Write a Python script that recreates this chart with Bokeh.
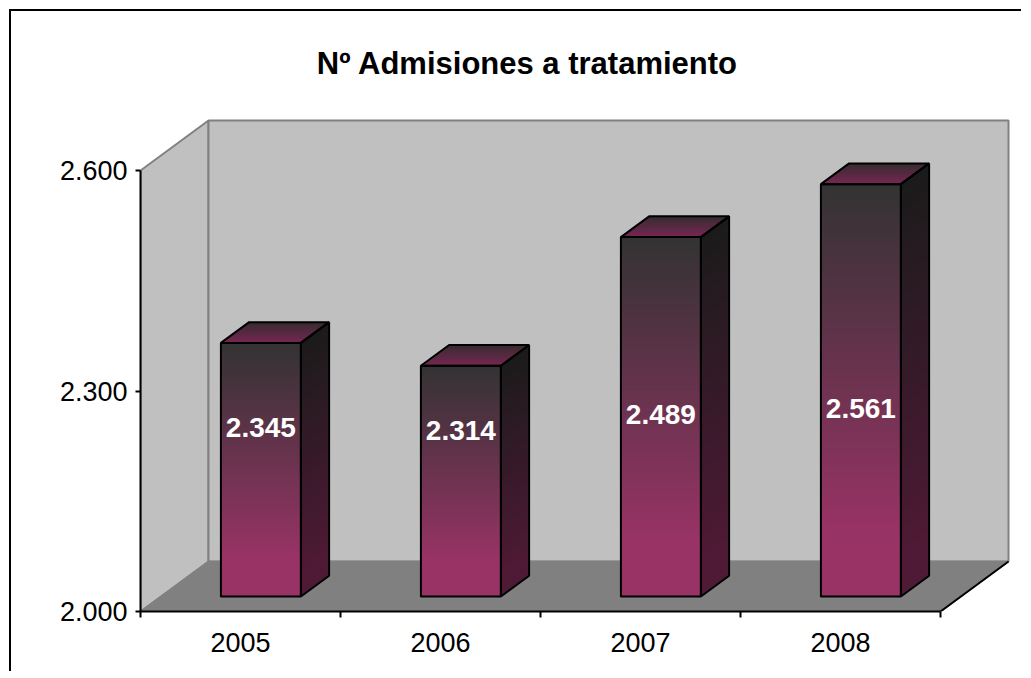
from bokeh.plotting import figure
from bokeh.models import Range1d, FixedTicker
from bokeh.core.properties import value
from bokeh.embed import file_html
from bokeh.resources import INLINE

# ---------------- data ----------------
years = ["2005", "2006", "2007", "2008"]
admissions = [2345, 2314, 2489, 2561]
y_ticks = [2000, 2300, 2600]
y_tick_labels = ["2.000", "2.300", "2.600"]
title_text = "Nº Admisiones a tratamiento"

# ---------------- layout constants ----------------
W, H = 1012, 662
MARGIN = 9                     # outer margin before the chart-area border
BORDER = 2
PAGE_X0 = PAGE_Y0 = MARGIN + BORDER
AX_X, AX_Y = 140, 611          # page position of the axes corner
PX_CAT = 200.0                 # px per category
PX_VAL = 441.0 / 600.0         # px per value unit
Y0 = 2000
DEPTH_PX = (68.0, 50.0)        # 3D depth offset in px
DX = DEPTH_PX[0] / PX_CAT
DY = DEPTH_PX[1] / PX_VAL
F0, F1 = 0.30, 0.715           # bar front/back depth fractions
BAR_W = 0.4
NSTRIP = 80
FONT = "Liberation Sans"

mbl = AX_X - PAGE_X0
mbb = H - (AX_Y - PAGE_Y0)
x_end = (W - mbl) / PX_CAT
y_end = Y0 + (AX_Y - PAGE_Y0) / PX_VAL

p = figure(width=W, height=H, output_backend="svg", toolbar_location=None,
           x_range=Range1d(0, x_end), y_range=Range1d(Y0, y_end),
           min_border_left=mbl, min_border_bottom=mbb, min_border_top=0, min_border_right=0)
p.margin = (MARGIN, 0, 0, MARGIN)
p.styles = {"border-left": f"{BORDER}px solid black", "border-top": f"{BORDER}px solid black"}
p.outline_line_color = None
p.grid.visible = False
p.background_fill_color = "white"
p.border_fill_color = "white"

n = len(years)
top_val = y_ticks[-1]

def hexc(c):
    return "#%02x%02x%02x" % tuple(int(round(v)) for v in c)

def lerp(a, b, t):
    t = max(0.0, min(1.0, t))
    return tuple(a[i] + (b[i] - a[i]) * t for i in range(3))

# ---------------- walls & floor ----------------
wall_fill = "#c0c0c0"
edge_gray = "#808080"
p.patch([0, DX, DX, 0], [Y0, Y0 + DY, top_val + DY, top_val],
        fill_color=wall_fill, line_color=edge_gray, line_width=2)
p.patch([DX, n + DX, n + DX, DX], [Y0 + DY, Y0 + DY, top_val + DY, top_val + DY],
        fill_color=wall_fill, line_color=edge_gray, line_width=2)
p.patch([0, n, n + DX, DX], [Y0, Y0, Y0 + DY, Y0 + DY],
        fill_color="#808080", line_color=edge_gray, line_width=1.5)
p.line([n, n + DX], [Y0, Y0 + DY], line_color="black", line_width=2)

# ---------------- bars ----------------
front_top, front_bot = (0x33, 0x33, 0x33), (0x99, 0x33, 0x66)
side_top, side_bot = (0x1b, 0x1b, 0x1b), (0x4e, 0x1a, 0x35)
topf_back, topf_front = (0x35, 0x2c, 0x30), (0x78, 0x26, 0x52)

ddx = (F1 - F0) * DX
ddy = (F1 - F0) * DY
for i, v in enumerate(admissions):
    xl = i + 0.5 - BAR_W / 2 + F0 * DX
    xr = xl + BAR_W
    yb = Y0 + F0 * DY
    yt = v + F0 * DY
    h = yt - yb
    L, R, T, B, C = [], [], [], [], []
    sxs, sys, sc = [], [], []
    for k in range(NSTRIP):
        a = yt - h * k / NSTRIP
        b = max(yb, yt - h * (k + 1.8) / NSTRIP)   # overlap to hide seams
        t = (k + 0.5) / NSTRIP
        L.append(xl); R.append(xr); T.append(a); B.append(b)
        C.append(hexc(lerp(front_top, front_bot, t / 0.85)))
        sxs.append([xr, xr + ddx, xr + ddx, xr])
        sys.append([a, a + ddy, b + ddy, b])
        sc.append(hexc(lerp(side_top, side_bot, t / 0.9)))
    p.quad(left=L, right=R, top=T, bottom=B, fill_color=C, line_color=None)
    p.patches(sxs, sys, fill_color=sc, line_color=None)
    txs, tys, tc = [], [], []
    NT = 16
    for k in range(NT):
        s0, s1 = k / NT, min(1.0, (k + 1.8) / NT)
        txs.append([xl + s0 * ddx, xr + s0 * ddx, xr + s1 * ddx, xl + s1 * ddx])
        tys.append([yt + s0 * ddy, yt + s0 * ddy, yt + s1 * ddy, yt + s1 * ddy])
        tc.append(hexc(lerp(topf_front, topf_back, (k + 0.5) / NT)))
    p.patches(txs, tys, fill_color=tc, line_color=None)
    p.patch([xl, xr, xr, xl], [yb, yb, yt, yt], fill_color=None, line_color="black", line_width=2)
    p.patch([xr, xr + ddx, xr + ddx, xr], [yb, yb + ddy, yt + ddy, yt],
            fill_color=None, line_color="black", line_width=2)
    p.patch([xl, xr, xr + ddx, xl + ddx], [yt, yt, yt + ddy, yt + ddy],
            fill_color=None, line_color="black", line_width=2)

# ---------------- data labels ----------------
lab_x = [i + 0.5 + F0 * DX for i in range(n)]
lab_y = [Y0 + (AX_Y - 457.3 + 0.088 * (v - Y0)) / PX_VAL for v in admissions]
lab_t = [f"{v:,}".replace(",", ".") for v in admissions]
p.text(lab_x, lab_y, text=lab_t, text_color="white", text_font=value(FONT),
       text_font_style="bold", text_font_size="28px", text_align="center",
       text_baseline="middle")

# ---------------- title ----------------
p.text([(527 - AX_X) / PX_CAT], [Y0 + (AX_Y - 63) / PX_VAL], text=[title_text],
       text_color="black", text_font=value(FONT), text_font_style="bold",
       text_font_size="31px", text_align="center", text_baseline="alphabetic")

# ---------------- axes ----------------
ya = p.yaxis[0]
ya.ticker = FixedTicker(ticks=y_ticks)
ya.bounds = (y_ticks[0], y_ticks[-1])
ya.major_label_overrides = {t: l for t, l in zip(y_ticks, y_tick_labels)}
ya.major_label_text_font = FONT
ya.major_label_text_font_size = "27px"
ya.major_label_text_color = "black"
ya.major_tick_out = 5
ya.major_tick_in = 0
ya.minor_tick_out = 0
ya.minor_tick_in = 0
ya.major_label_standoff = 8
ya.axis_line_color = "black"
ya.axis_line_width = 2
ya.major_tick_line_width = 2

xa = p.xaxis[0]
centers = [i + 0.5 for i in range(n)]
xa.ticker = FixedTicker(ticks=centers, minor_ticks=list(range(n + 1)))
xa.bounds = (0, n)
xa.major_label_overrides = {c: y for c, y in zip(centers, years)}
xa.major_label_text_font = FONT
xa.major_label_text_font_size = "27px"
xa.major_label_text_color = "black"
xa.major_tick_out = 0
xa.major_tick_in = 0
xa.minor_tick_out = 6
xa.minor_tick_in = 0
xa.minor_tick_line_color = "black"
xa.minor_tick_line_width = 2
xa.major_label_standoff = 15
xa.axis_line_color = "black"
xa.axis_line_width = 2

open("out.html", "w").write(file_html(p, INLINE))
